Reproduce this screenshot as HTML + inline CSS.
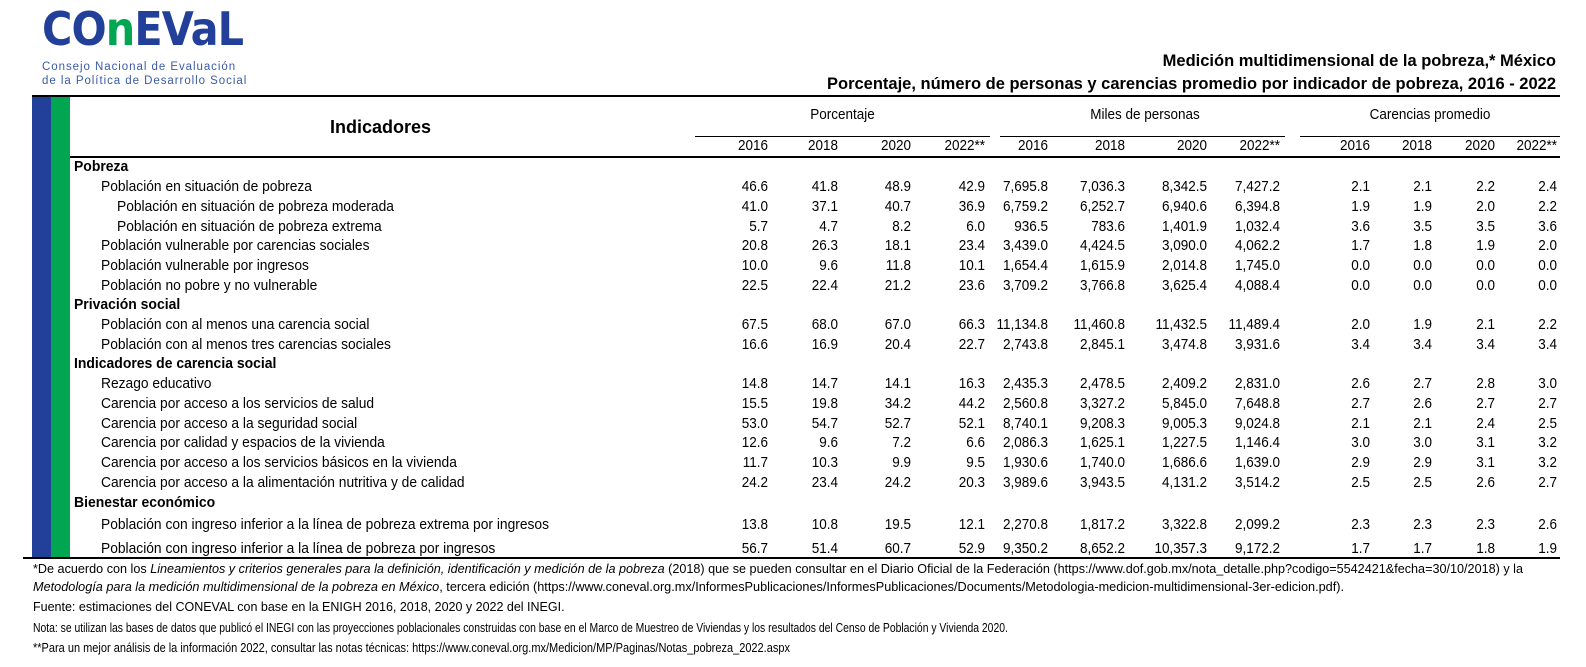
<!DOCTYPE html>
<html><head><meta charset="utf-8">
<style>
body{margin:0;width:1586px;height:667px;background:#fff;position:relative;overflow:hidden;font-family:"Liberation Sans",Arial,sans-serif;color:#000}
.a{position:absolute;white-space:nowrap}
.r{position:absolute;left:0;width:1586px;height:20px;font-size:15px;line-height:20px}
.r span{position:absolute;white-space:nowrap}
.n{width:90px;text-align:right;transform:scaleX(.9);transform-origin:right}
.c1{left:678px}.c2{left:748px}.c3{left:821px}.c4{left:895px}.c5{left:958px}.c6{left:1035px}.c7{left:1117px}.c8{left:1190px}.c9{left:1280px}.c10{left:1342px}.c11{left:1405px}.c12{left:1467px}
.l0{left:74px;font-weight:bold;transform:scaleX(.93);transform-origin:left}
.l1{left:101px;transform:scaleX(.92);transform-origin:left}
.l2{left:117px;transform:scaleX(.92);transform-origin:left}
.f{position:absolute;left:33px;font-size:12.5px;line-height:16px;white-space:nowrap;transform-origin:left}
.hl{position:absolute;background:#000;height:2px}
</style></head><body>
<!-- logo -->
<div class="a" style="left:42px;top:4px;font-size:46px;font-weight:900;color:#22409a;letter-spacing:-1px;transform:scaleX(.9);transform-origin:left;font-family:'DejaVu Sans',sans-serif;line-height:50px">CO<span style="color:#00a651">n</span>EVaL</div>
<div class="a" style="left:42px;top:60px;font-size:11.5px;color:#3b5aa6;letter-spacing:.95px;line-height:14px">Consejo Nacional de Evaluación<br>de la Política de Desarrollo Social</div>
<!-- titles -->
<div class="a" style="right:30px;top:52px;font-size:16.5px;font-weight:bold">Medición multidimensional de la pobreza,* México</div>
<div class="a" style="right:30px;top:75px;font-size:16.5px;font-weight:bold">Porcentaje, número de personas y carencias promedio por indicador de pobreza, 2016 - 2022</div>
<!-- bars -->
<div class="hl" style="left:32px;top:95px;width:1528px"></div>
<div class="a" style="left:32px;top:97px;width:19px;height:461px;background:#22409a"></div>
<div class="a" style="left:51px;top:97px;width:19px;height:461px;background:#00a651"></div>
<div class="a" style="left:330px;top:117px;font-size:18px;font-weight:bold">Indicadores</div>
<div class="a" style="left:695px;top:106px;width:295px;text-align:center;font-size:15px;transform:scaleX(.9)">Porcentaje</div>
<div class="a" style="left:1000px;top:106px;width:290px;text-align:center;font-size:15px;transform:scaleX(.9)">Miles de personas</div>
<div class="a" style="left:1300px;top:106px;width:260px;text-align:center;font-size:15px;transform:scaleX(.9)">Carencias promedio</div>
<div class="a" style="left:695px;top:136px;width:295px;height:1px;background:#000"></div>
<div class="a" style="left:1000px;top:136px;width:285px;height:1px;background:#000"></div>
<div class="a" style="left:1300px;top:136px;width:260px;height:1px;background:#000"></div>
<div class="r" style="top:136px"><span class="n c1">2016</span><span class="n c2">2018</span><span class="n c3">2020</span><span class="n c4">2022**</span><span class="n c5">2016</span><span class="n c6">2018</span><span class="n c7">2020</span><span class="n c8">2022**</span><span class="n c9">2016</span><span class="n c10">2018</span><span class="n c11">2020</span><span class="n c12">2022**</span></div>
<div class="hl" style="left:70px;top:156px;width:1490px"></div>

<div class="r" style="top:157px"><span class="l0">Pobreza</span></div>
<div class="r" style="top:177px"><span class="l1">Población en situación de pobreza</span><span class="n c1">46.6</span><span class="n c2">41.8</span><span class="n c3">48.9</span><span class="n c4">42.9</span><span class="n c5">7,695.8</span><span class="n c6">7,036.3</span><span class="n c7">8,342.5</span><span class="n c8">7,427.2</span><span class="n c9">2.1</span><span class="n c10">2.1</span><span class="n c11">2.2</span><span class="n c12">2.4</span></div>
<div class="r" style="top:197px"><span class="l2">Población en situación de pobreza moderada</span><span class="n c1">41.0</span><span class="n c2">37.1</span><span class="n c3">40.7</span><span class="n c4">36.9</span><span class="n c5">6,759.2</span><span class="n c6">6,252.7</span><span class="n c7">6,940.6</span><span class="n c8">6,394.8</span><span class="n c9">1.9</span><span class="n c10">1.9</span><span class="n c11">2.0</span><span class="n c12">2.2</span></div>
<div class="r" style="top:217px"><span class="l2">Población en situación de pobreza extrema</span><span class="n c1">5.7</span><span class="n c2">4.7</span><span class="n c3">8.2</span><span class="n c4">6.0</span><span class="n c5">936.5</span><span class="n c6">783.6</span><span class="n c7">1,401.9</span><span class="n c8">1,032.4</span><span class="n c9">3.6</span><span class="n c10">3.5</span><span class="n c11">3.5</span><span class="n c12">3.6</span></div>
<div class="r" style="top:236px"><span class="l1">Población vulnerable por carencias sociales</span><span class="n c1">20.8</span><span class="n c2">26.3</span><span class="n c3">18.1</span><span class="n c4">23.4</span><span class="n c5">3,439.0</span><span class="n c6">4,424.5</span><span class="n c7">3,090.0</span><span class="n c8">4,062.2</span><span class="n c9">1.7</span><span class="n c10">1.8</span><span class="n c11">1.9</span><span class="n c12">2.0</span></div>
<div class="r" style="top:256px"><span class="l1">Población vulnerable por ingresos</span><span class="n c1">10.0</span><span class="n c2">9.6</span><span class="n c3">11.8</span><span class="n c4">10.1</span><span class="n c5">1,654.4</span><span class="n c6">1,615.9</span><span class="n c7">2,014.8</span><span class="n c8">1,745.0</span><span class="n c9">0.0</span><span class="n c10">0.0</span><span class="n c11">0.0</span><span class="n c12">0.0</span></div>
<div class="r" style="top:276px"><span class="l1">Población no pobre y no vulnerable</span><span class="n c1">22.5</span><span class="n c2">22.4</span><span class="n c3">21.2</span><span class="n c4">23.6</span><span class="n c5">3,709.2</span><span class="n c6">3,766.8</span><span class="n c7">3,625.4</span><span class="n c8">4,088.4</span><span class="n c9">0.0</span><span class="n c10">0.0</span><span class="n c11">0.0</span><span class="n c12">0.0</span></div>
<div class="r" style="top:295px"><span class="l0">Privación social</span></div>
<div class="r" style="top:315px"><span class="l1">Población con al menos una carencia social</span><span class="n c1">67.5</span><span class="n c2">68.0</span><span class="n c3">67.0</span><span class="n c4">66.3</span><span class="n c5">11,134.8</span><span class="n c6">11,460.8</span><span class="n c7">11,432.5</span><span class="n c8">11,489.4</span><span class="n c9">2.0</span><span class="n c10">1.9</span><span class="n c11">2.1</span><span class="n c12">2.2</span></div>
<div class="r" style="top:335px"><span class="l1">Población con al menos tres carencias sociales</span><span class="n c1">16.6</span><span class="n c2">16.9</span><span class="n c3">20.4</span><span class="n c4">22.7</span><span class="n c5">2,743.8</span><span class="n c6">2,845.1</span><span class="n c7">3,474.8</span><span class="n c8">3,931.6</span><span class="n c9">3.4</span><span class="n c10">3.4</span><span class="n c11">3.4</span><span class="n c12">3.4</span></div>
<div class="r" style="top:354px"><span class="l0">Indicadores de carencia social</span></div>
<div class="r" style="top:374px"><span class="l1">Rezago educativo</span><span class="n c1">14.8</span><span class="n c2">14.7</span><span class="n c3">14.1</span><span class="n c4">16.3</span><span class="n c5">2,435.3</span><span class="n c6">2,478.5</span><span class="n c7">2,409.2</span><span class="n c8">2,831.0</span><span class="n c9">2.6</span><span class="n c10">2.7</span><span class="n c11">2.8</span><span class="n c12">3.0</span></div>
<div class="r" style="top:394px"><span class="l1">Carencia por acceso a los servicios de salud</span><span class="n c1">15.5</span><span class="n c2">19.8</span><span class="n c3">34.2</span><span class="n c4">44.2</span><span class="n c5">2,560.8</span><span class="n c6">3,327.2</span><span class="n c7">5,845.0</span><span class="n c8">7,648.8</span><span class="n c9">2.7</span><span class="n c10">2.6</span><span class="n c11">2.7</span><span class="n c12">2.7</span></div>
<div class="r" style="top:414px"><span class="l1">Carencia por acceso a la seguridad social</span><span class="n c1">53.0</span><span class="n c2">54.7</span><span class="n c3">52.7</span><span class="n c4">52.1</span><span class="n c5">8,740.1</span><span class="n c6">9,208.3</span><span class="n c7">9,005.3</span><span class="n c8">9,024.8</span><span class="n c9">2.1</span><span class="n c10">2.1</span><span class="n c11">2.4</span><span class="n c12">2.5</span></div>
<div class="r" style="top:433px"><span class="l1">Carencia por calidad y espacios de la vivienda</span><span class="n c1">12.6</span><span class="n c2">9.6</span><span class="n c3">7.2</span><span class="n c4">6.6</span><span class="n c5">2,086.3</span><span class="n c6">1,625.1</span><span class="n c7">1,227.5</span><span class="n c8">1,146.4</span><span class="n c9">3.0</span><span class="n c10">3.0</span><span class="n c11">3.1</span><span class="n c12">3.2</span></div>
<div class="r" style="top:453px"><span class="l1">Carencia por acceso a los servicios básicos en la vivienda</span><span class="n c1">11.7</span><span class="n c2">10.3</span><span class="n c3">9.9</span><span class="n c4">9.5</span><span class="n c5">1,930.6</span><span class="n c6">1,740.0</span><span class="n c7">1,686.6</span><span class="n c8">1,639.0</span><span class="n c9">2.9</span><span class="n c10">2.9</span><span class="n c11">3.1</span><span class="n c12">3.2</span></div>
<div class="r" style="top:473px"><span class="l1">Carencia por acceso a la alimentación nutritiva y de calidad</span><span class="n c1">24.2</span><span class="n c2">23.4</span><span class="n c3">24.2</span><span class="n c4">20.3</span><span class="n c5">3,989.6</span><span class="n c6">3,943.5</span><span class="n c7">4,131.2</span><span class="n c8">3,514.2</span><span class="n c9">2.5</span><span class="n c10">2.5</span><span class="n c11">2.6</span><span class="n c12">2.7</span></div>
<div class="r" style="top:493px"><span class="l0">Bienestar económico</span></div>
<div class="r" style="top:515px"><span class="l1">Población con ingreso inferior a la línea de pobreza extrema por ingresos</span><span class="n c1">13.8</span><span class="n c2">10.8</span><span class="n c3">19.5</span><span class="n c4">12.1</span><span class="n c5">2,270.8</span><span class="n c6">1,817.2</span><span class="n c7">3,322.8</span><span class="n c8">2,099.2</span><span class="n c9">2.3</span><span class="n c10">2.3</span><span class="n c11">2.3</span><span class="n c12">2.6</span></div>
<div class="r" style="top:539px"><span class="l1">Población con ingreso inferior a la línea de pobreza por ingresos</span><span class="n c1">56.7</span><span class="n c2">51.4</span><span class="n c3">60.7</span><span class="n c4">52.9</span><span class="n c5">9,350.2</span><span class="n c6">8,652.2</span><span class="n c7">10,357.3</span><span class="n c8">9,172.2</span><span class="n c9">1.7</span><span class="n c10">1.7</span><span class="n c11">1.8</span><span class="n c12">1.9</span></div>
<div class="hl" style="left:23px;top:557px;width:1537px"></div>

<div class="f" style="top:561px;transform:scaleX(1.01)">*De acuerdo con los <i>Lineamientos y criterios generales para la definición, identificación y medición de la pobreza</i> (2018) que se pueden consultar en el Diario Oficial de la Federación (https://www.dof.gob.mx/nota_detalle.php?codigo=5542421&amp;fecha=30/10/2018) y la</div>
<div class="f" style="top:579px;transform:scaleX(1.015)"><i>Metodología para la medición multidimensional de la pobreza en México</i>, tercera edición (https://www.coneval.org.mx/InformesPublicaciones/InformesPublicaciones/Documents/Metodologia-medicion-multidimensional-3er-edicion.pdf).</div>
<div class="f" style="top:599px;transform:scaleX(1.0)">Fuente: estimaciones del CONEVAL con base en la ENIGH 2016, 2018, 2020 y 2022 del INEGI.</div>
<div class="f" style="top:620px;transform:scaleX(.83)">Nota: se utilizan las bases de datos que publicó el INEGI con las proyecciones poblacionales construidas con base en el Marco de Muestreo de Viviendas y los resultados del Censo de Población y Vivienda 2020.</div>
<div class="f" style="top:640px;transform:scaleX(.88)">**Para un mejor análisis de la información 2022, consultar las notas técnicas: https://www.coneval.org.mx/Medicion/MP/Paginas/Notas_pobreza_2022.aspx</div>
</body></html>
